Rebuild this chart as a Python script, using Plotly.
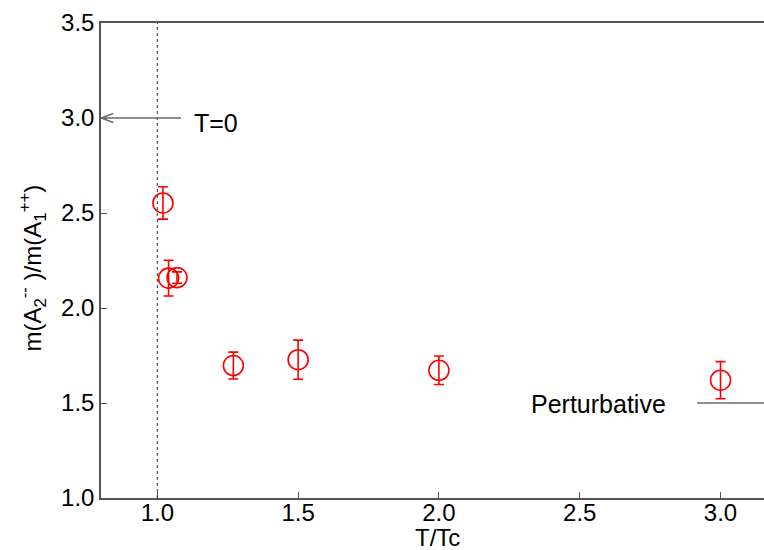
import plotly.graph_objects as go

# Data
t_over_tc = [1.02, 1.04, 1.07, 1.27, 1.50, 2.00, 3.00]
mass_ratio = [2.553, 2.157, 2.160, 1.697, 1.728, 1.672, 1.620]
ratio_err = [0.085, 0.094, 0.030, 0.071, 0.103, 0.075, 0.098]

x_ticks = [1.0, 1.5, 2.0, 2.5, 3.0]
y_ticks = [1.0, 1.5, 2.0, 2.5, 3.0, 3.5]

t0_value = 3.0          # T=0 ratio
pert_value = 1.5        # perturbative ratio
tc_line = 1.0           # T = Tc

FONT = "Liberation Sans, Arial, Helvetica, sans-serif"
AX = "#555555"
ARR = "#6a6a6a"
FS = 24

fig = go.Figure()
fig.add_trace(go.Scatter(
    x=t_over_tc, y=mass_ratio, mode="markers",
    marker=dict(symbol="circle-open", size=20, color="#ff0000",
                line=dict(width=1.6, color="#ff0000")),
    error_y=dict(type="data", array=ratio_err, visible=True,
                 color="#ff0000", thickness=1.6, width=5),
    showlegend=False, cliponaxis=False,
))

xr = [0.8, 0.8 + 663 / 281.6]
yr = [1.0, 3.5]

shapes = []
# dotted line at T = Tc
shapes.append(dict(type="line", xref="x", yref="y", x0=tc_line, x1=tc_line,
                   y0=yr[0], y1=yr[1], line=dict(color="#333333", width=1, dash="dot")))
# T=0 arrow
hx, hy = 0.0437, 0.024
shapes.append(dict(type="line", xref="x", yref="y", x0=1.084, x1=xr[0],
                   y0=t0_value, y1=t0_value, line=dict(color=ARR, width=1.5)))
for s in (1, -1):
    shapes.append(dict(type="line", xref="x", yref="y", x0=xr[0], x1=xr[0] + hx,
                       y0=t0_value, y1=t0_value + s * hy, line=dict(color=ARR, width=1.5)))
# Perturbative arrow (head pointing to x=3.2, mostly clipped)
shapes.append(dict(type="line", xref="x", yref="y", x0=2.917, x1=3.2,
                   y0=pert_value, y1=pert_value, line=dict(color=ARR, width=1.5)))
for s in (1, -1):
    shapes.append(dict(type="line", xref="x", yref="y", x0=3.2, x1=3.2 - hx,
                       y0=pert_value, y1=pert_value + s * hy, line=dict(color=ARR, width=1.5)))

annotations = [
    dict(x=1.122, y=2.975, xref="x", yref="y", text="T=0", showarrow=False,
         xanchor="left", yanchor="middle", font=dict(size=25, color="black", family=FONT)),
    dict(x=2.320, y=1.493, xref="x", yref="y", text="Perturbative", showarrow=False,
         xanchor="left", yanchor="middle", font=dict(size=25, color="black", family=FONT)),
    dict(x=0.507, y=0, xref="paper", yref="paper", text="T/Tc", showarrow=False,
         xanchor="center", yanchor="middle", yshift=-39,
         font=dict(size=FS, color="black", family=FONT)),
    dict(x=0, y=0.483, xref="paper", yref="paper",
         text="m(A<sub>2</sub><sup>--</sup> )/m(A<sub>1</sub><sup>++</sup>)",
         showarrow=False, textangle=-90, xanchor="center", yanchor="middle",
         xshift=-69, font=dict(size=FS, color="black", family=FONT)),
]

fig.update_layout(
    width=764, height=550,
    margin=dict(l=101, r=0, t=23, b=52, pad=0),
    paper_bgcolor="white", plot_bgcolor="white",
    font=dict(family=FONT, size=FS, color="black"),
    xaxis=dict(range=xr, tickvals=x_ticks, ticktext=[f"{v:.1f}" for v in x_ticks],
               ticks="inside", ticklen=6, tickcolor=AX, tickwidth=1.2,
               ticklabelstandoff=-8,
               showline=True, linecolor=AX, linewidth=1.5, mirror=True,
               showgrid=False, zeroline=False,
               tickfont=dict(size=FS, color="black", family=FONT)),
    yaxis=dict(range=yr, tickvals=y_ticks, ticktext=[f"{v:.1f}" for v in y_ticks],
               ticks="inside", ticklen=6, tickcolor=AX, tickwidth=1.2,
               showline=True, linecolor=AX, linewidth=1.5, mirror=False,
               showgrid=False, zeroline=False,
               tickfont=dict(size=FS, color="black", family=FONT)),
    shapes=shapes, annotations=annotations,
)

fig.write_html("out.html")
